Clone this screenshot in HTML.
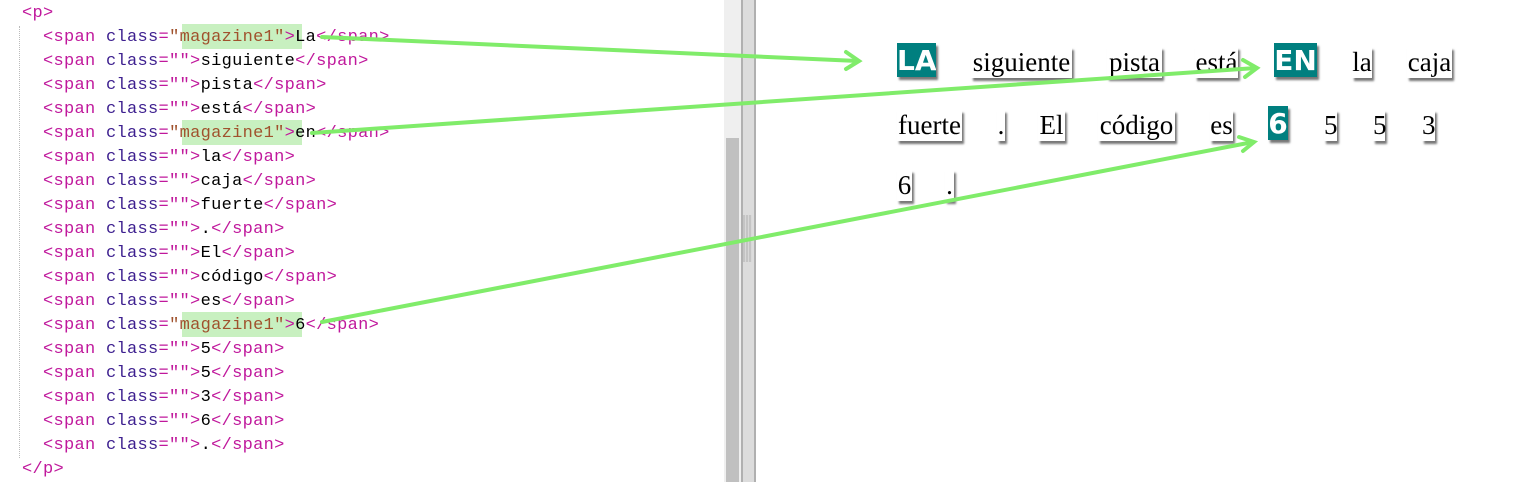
<!DOCTYPE html>
<html><head><meta charset="utf-8"><style>
body{margin:0;width:1523px;height:482px;background:#fff;position:relative;overflow:hidden}
.code{position:absolute;left:22px;top:2px;font-family:"Liberation Mono",monospace;font-size:17px;letter-spacing:0.3px;line-height:24px;white-space:pre}
.t{color:#c0189c}.a{color:#3d1f8f}.v{color:#a0522d}.x{color:#000}
.hl{position:absolute;background:#c8f0c0;width:120px;height:25px;left:182px}
.guide{position:absolute;left:19px;top:26px;height:432px;border-left:1px dotted #bbb}
.w{position:absolute;background:#fff;box-shadow:2px 3px 2px #777;font-family:"Liberation Serif",serif;font-size:27px;line-height:31px;text-align:center;color:#000;white-space:nowrap}
.m{position:absolute;background:#007f7f;color:#fff;font-family:"DejaVu Sans",sans-serif;font-weight:bold;font-size:28px;line-height:36px;text-align:center;box-shadow:2px 3px 2px #777;overflow:hidden}
</style></head><body>
<div class="hl" style="top:24px"></div>
<div class="hl" style="top:120px"></div>
<div class="hl" style="top:312px"></div>
<div class="guide"></div>
<div class="code"><span class="t">&lt;p&gt;</span>
  <span class="t">&lt;span </span><span class="a">class</span><span class="t">=</span><span class="v">"magazine1"</span><span class="t">&gt;</span><span class="x">La</span><span class="t">&lt;/span&gt;</span>
  <span class="t">&lt;span </span><span class="a">class</span><span class="t">=""&gt;</span><span class="x">siguiente</span><span class="t">&lt;/span&gt;</span>
  <span class="t">&lt;span </span><span class="a">class</span><span class="t">=""&gt;</span><span class="x">pista</span><span class="t">&lt;/span&gt;</span>
  <span class="t">&lt;span </span><span class="a">class</span><span class="t">=""&gt;</span><span class="x">está</span><span class="t">&lt;/span&gt;</span>
  <span class="t">&lt;span </span><span class="a">class</span><span class="t">=</span><span class="v">"magazine1"</span><span class="t">&gt;</span><span class="x">en</span><span class="t">&lt;/span&gt;</span>
  <span class="t">&lt;span </span><span class="a">class</span><span class="t">=""&gt;</span><span class="x">la</span><span class="t">&lt;/span&gt;</span>
  <span class="t">&lt;span </span><span class="a">class</span><span class="t">=""&gt;</span><span class="x">caja</span><span class="t">&lt;/span&gt;</span>
  <span class="t">&lt;span </span><span class="a">class</span><span class="t">=""&gt;</span><span class="x">fuerte</span><span class="t">&lt;/span&gt;</span>
  <span class="t">&lt;span </span><span class="a">class</span><span class="t">=""&gt;</span><span class="x">.</span><span class="t">&lt;/span&gt;</span>
  <span class="t">&lt;span </span><span class="a">class</span><span class="t">=""&gt;</span><span class="x">El</span><span class="t">&lt;/span&gt;</span>
  <span class="t">&lt;span </span><span class="a">class</span><span class="t">=""&gt;</span><span class="x">código</span><span class="t">&lt;/span&gt;</span>
  <span class="t">&lt;span </span><span class="a">class</span><span class="t">=""&gt;</span><span class="x">es</span><span class="t">&lt;/span&gt;</span>
  <span class="t">&lt;span </span><span class="a">class</span><span class="t">=</span><span class="v">"magazine1"</span><span class="t">&gt;</span><span class="x">6</span><span class="t">&lt;/span&gt;</span>
  <span class="t">&lt;span </span><span class="a">class</span><span class="t">=""&gt;</span><span class="x">5</span><span class="t">&lt;/span&gt;</span>
  <span class="t">&lt;span </span><span class="a">class</span><span class="t">=""&gt;</span><span class="x">5</span><span class="t">&lt;/span&gt;</span>
  <span class="t">&lt;span </span><span class="a">class</span><span class="t">=""&gt;</span><span class="x">3</span><span class="t">&lt;/span&gt;</span>
  <span class="t">&lt;span </span><span class="a">class</span><span class="t">=""&gt;</span><span class="x">6</span><span class="t">&lt;/span&gt;</span>
  <span class="t">&lt;span </span><span class="a">class</span><span class="t">=""&gt;</span><span class="x">.</span><span class="t">&lt;/span&gt;</span>
<span class="t">&lt;/p&gt;</span></div>

<div style="position:absolute;left:724px;top:0;width:17px;height:482px;background:#efefef"></div>
<div style="position:absolute;left:726px;top:138px;width:13px;height:344px;background:#c0c0c0"></div>
<div style="position:absolute;left:741px;top:0;width:2px;height:482px;background:#b0b0b0"></div>
<div style="position:absolute;left:743px;top:0;width:11px;height:482px;background:#dcdcdc"></div>
<div style="position:absolute;left:754px;top:0;width:2px;height:482px;background:#b0b0b0"></div>
<div style="position:absolute;left:743px;top:215px;width:9px;height:47px;background:repeating-linear-gradient(90deg,#c4c4c4 0 2px,#d8d8d8 2px 3px)"></div>

<div class="m" style="left:897px;top:43px;width:39px;height:34px">LA</div>
<div class="w" style="left:971px;top:47px;width:101px">siguiente</div>
<div class="w" style="left:1107px;top:47px;width:55px">pista</div>
<div class="w" style="left:1195px;top:47px;width:43px">está</div>
<div class="m" style="left:1274px;top:43px;width:43px;height:34px">EN</div>
<div class="w" style="left:1352px;top:47px;width:20px">la</div>
<div class="w" style="left:1407px;top:47px;width:45px">caja</div>
<div class="w" style="left:897px;top:110px;width:65px">fuerte</div>
<div class="w" style="left:997px;top:110px;width:8px">.</div>
<div class="w" style="left:1038px;top:110px;width:27px">El</div>
<div class="w" style="left:1098px;top:110px;width:77px">código</div>
<div class="w" style="left:1210px;top:110px;width:23px">es</div>
<div class="m" style="left:1268px;top:106px;width:20px;height:34px">6</div>
<div class="w" style="left:1324px;top:110px;width:13px">5</div>
<div class="w" style="left:1373px;top:110px;width:12px">5</div>
<div class="w" style="left:1422px;top:110px;width:13px">3</div>
<div class="w" style="left:897px;top:170px;width:15px">6</div>
<div class="w" style="left:945px;top:170px;width:9px">.</div>

<svg width="1523" height="482" style="position:absolute;left:0;top:0" fill="none" stroke="#80ec6a" stroke-width="4" stroke-linecap="round">
<line x1="322" y1="37" x2="858" y2="61"/>
<polyline points="846,52 859,61 846,69"/>
<line x1="312" y1="133" x2="1256" y2="68"/>
<polyline points="1243,60 1257,68 1245,77"/>
<line x1="322" y1="322" x2="1253" y2="142"/>
<polyline points="1239,137 1254,142 1243,151"/>
</svg>
</body></html>
